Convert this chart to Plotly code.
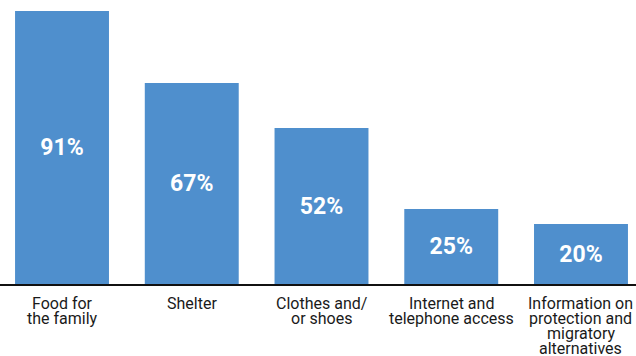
import plotly.graph_objects as go

# Share of respondents naming each need
categories = [
    "Food for<br>the family",
    "Shelter",
    "Clothes and/<br>or shoes",
    "Internet and<br>telephone access",
    "Information on<br>protection and<br>migratory<br>alternatives",
]
values = [91, 67, 52, 25, 20]
value_labels = [f"{v}%" for v in values]

BAR_COLOR = "#4f8fcd"
LABEL_FONT = "Roboto"
LABEL_SIZE = 16
LINE_STEP = 15.3  # px between stacked label lines

fig = go.Figure(
    go.Bar(
        x=list(range(len(categories))),
        y=values,
        text=value_labels,
        textposition="inside",
        insidetextanchor="middle",
        textangle=0,
        textfont=dict(family="Roboto", size=23, color="white", weight="bold"),
        marker=dict(color=BAR_COLOR, line=dict(width=0)),
        hoverinfo="skip",
    )
)

# Category labels, one annotation per line so the leading stays tight
annotations = []
for i, label in enumerate(categories):
    for j, line in enumerate(label.split("<br>")):
        annotations.append(
            dict(
                x=i,
                xref="x",
                y=0,
                yref="paper",
                yanchor="middle",
                xanchor="center",
                yshift=-(19 + j * LINE_STEP),
                text=line,
                showarrow=False,
                font=dict(family=LABEL_FONT, size=LABEL_SIZE, color="#1a1a1a"),
            )
        )

fig.update_layout(
    width=636,
    height=356,
    margin=dict(l=0, r=0, t=0, b=72),
    paper_bgcolor="white",
    plot_bgcolor="white",
    bargap=0.276,
    showlegend=False,
    annotations=annotations,
    uniformtext=dict(mode=False),
)
fig.update_xaxes(
    range=[-0.478, 4.424],
    showticklabels=False,
    ticks="",
    showgrid=False,
    zeroline=False,
    showline=True,
    linecolor="#111111",
    linewidth=1.5,
)
fig.update_yaxes(
    range=[0, 94.7],
    visible=False,
    showgrid=False,
    zeroline=False,
)

fig.write_html("out.html")
